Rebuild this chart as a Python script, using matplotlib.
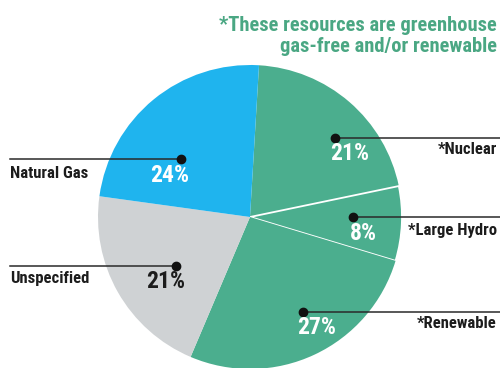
import matplotlib.pyplot as plt

sources = ["*Nuclear", "*Large Hydro", "*Renewable", "Unspecified", "Natural Gas"]
shares = [21, 8, 27, 21, 24]
colors = ["#4bae8e", "#4bae8e", "#4bae8e", "#cfd2d4", "#1fb4ee"]
pct_colors = ["white", "white", "white", "#1c1c1c", "white"]
note = "*These resources are greenhouse\ngas-free and/or renewable"

plt.rcParams["font.family"] = ["Roboto Condensed", "DejaVu Sans"]

W, H = 500, 368
fig = plt.figure(figsize=(W / 100, H / 100), dpi=100)
ax = fig.add_axes([0, 0, 1, 1])

cx, cy, r = 250, H - 217, 152
wedges, _ = ax.pie(shares, colors=colors, radius=r, center=(cx, cy),
                   startangle=86.6, counterclock=False, frame=True,
                   wedgeprops=dict(linewidth=0))
ax.set_xlim(0, W)
ax.set_ylim(0, H)
ax.set_aspect("equal")
ax.axis("off")

# white separators around the hydro slice
wedges[1].set_edgecolor("white")
wedges[1].set_linewidth(1.3)

# callouts: dot position, label anchor, percent anchor (pixel coords, y from top)
dots = [(335, 138), (353, 217), (303, 312), (176, 266), (181, 159)]
label_y = [150, 230, 324, 278, 173]
pct_pos = [(350, 154), (363, 233), (317, 328), (166, 282), (170, 175)]
right_side = [True, True, True, False, False]

for i, name in enumerate(sources):
    dx, dy = dots[i]
    if right_side[i]:
        ax.plot([dx, W], [H - dy, H - dy], color="#2a2a2a", lw=1.1)
        ax.text(497, H - label_y[i], name, ha="right", va="center",
                fontsize=12, fontweight="bold", color="#1c1c1c")
    else:
        ax.plot([10, dx], [H - dy, H - dy], color="#2a2a2a", lw=1.1)
        ax.text(10, H - label_y[i], name, ha="left", va="center",
                fontsize=12, fontweight="bold", color="#1c1c1c")
    ax.plot(dx, H - dy, "o", color="#111111", ms=6)
    px, py = pct_pos[i]
    ax.text(px, H - py, f"{shares[i]}%", ha="center", va="center",
            fontsize=17, fontweight="bold", color=pct_colors[i])

ax.text(497, H - 36, note, ha="right", va="center", fontsize=14.8,
        fontweight="bold", color="#4aa783", linespacing=1.1)

fig.savefig("out.png", dpi=100)
